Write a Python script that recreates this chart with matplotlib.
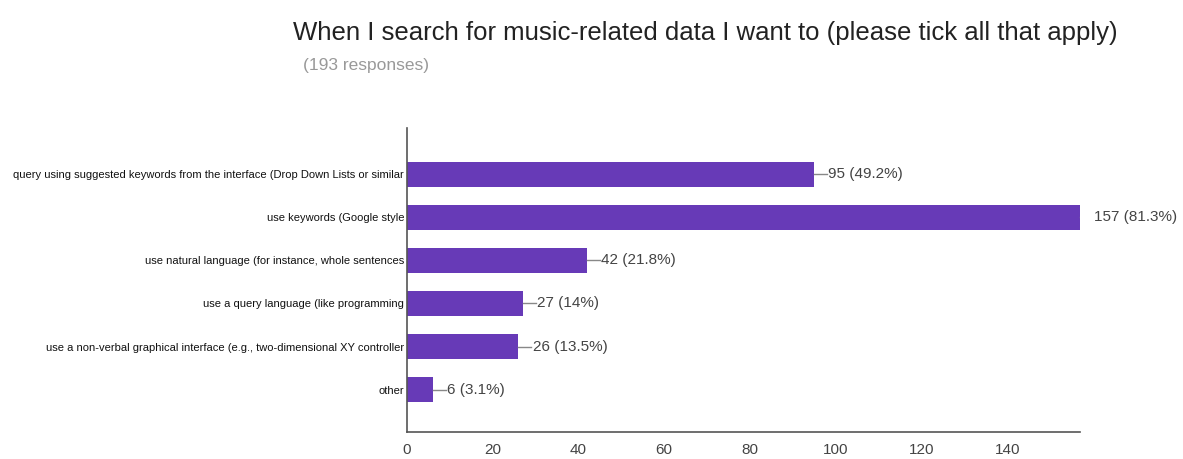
import matplotlib
matplotlib.use("Agg")
import matplotlib.pyplot as plt


# Survey answers, counts and share of the 193 respondents
OPTIONS = [
    "query using suggested keywords from the interface (Drop Down Lists or similar",
    "use keywords (Google style",
    "use natural language (for instance, whole sentences",
    "use a query language (like programming",
    "use a non-verbal graphical interface (e.g., two-dimensional XY controller",
    "other",
]
COUNTS = [95, 157, 42, 27, 26, 6]
PERCENTS = ["49.2%", "81.3%", "21.8%", "14%", "13.5%", "3.1%"]
X_TICKS = [0, 20, 40, 60, 80, 100, 120, 140]

BAR_COLOR = "#673ab7"
TEXT_GRAY = "#444444"

plt.rcParams["font.family"] = ["Liberation Sans", "DejaVu Sans"]

fig = plt.figure(figsize=(11.83, 4.59), dpi=100)
ax = fig.add_axes([0.344, 0.059, 0.569, 0.662])

ypos = list(range(len(OPTIONS)))
ax.barh(ypos, COUNTS, height=0.58, color=BAR_COLOR)

# value labels with a short leader line from the bar end
for y, n, pct in zip(ypos, COUNTS, PERCENTS):
    ax.plot([n, n + 3.0], [y, y], color="#888888", lw=1)
    ax.text(n + 3.3, y, f"{n} ({pct})", va="center", ha="left",
            fontsize=11, color=TEXT_GRAY)

ax.set_xlim(0, 157)
ax.set_ylim(5.98, -1.07)
ax.set_yticks(ypos)
ax.set_yticklabels(OPTIONS, fontsize=8, color="#111111")
ax.set_xticks(X_TICKS)
ax.set_xticklabels([str(t) for t in X_TICKS], fontsize=11, color=TEXT_GRAY)
ax.tick_params(axis="both", length=0)
ax.tick_params(axis="x", pad=8)
ax.tick_params(axis="y", pad=2)

for side in ("top", "right"):
    ax.spines[side].set_visible(False)
for side in ("left", "bottom"):
    ax.spines[side].set_color("#555555")
    ax.spines[side].set_linewidth(1.2)

fig.text(0.248, 0.928, "When I search for music-related data I want to (please tick all that apply)",
         fontsize=18.5, color="#222222", va="center", ha="left")
fig.text(0.256, 0.858, "(193 responses)", fontsize=12.5, color="#999999",
         va="center", ha="left")

fig.savefig("out.png", dpi=100)
